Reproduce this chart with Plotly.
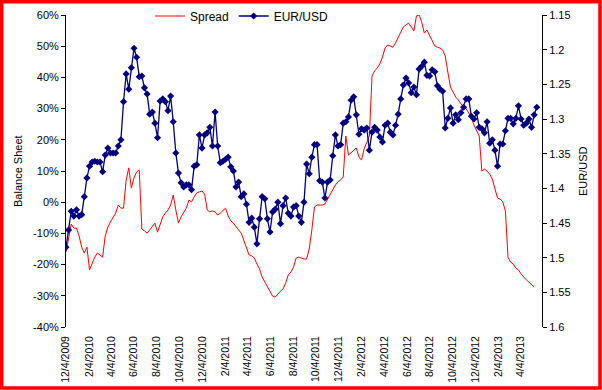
import plotly.graph_objects as go
import pandas as pd

# ---------------- data ----------------
start_date = "2009-12-04"   # weekly observations

eurusd = [
    1.485, 1.460, 1.433, 1.440, 1.431, 1.440, 1.438, 1.412, 1.385, 1.368,
    1.362, 1.361, 1.362, 1.362, 1.376, 1.352, 1.342, 1.349, 1.349, 1.349,
    1.339, 1.330, 1.275, 1.235, 1.257, 1.226, 1.198, 1.211, 1.239, 1.238,
    1.255, 1.264, 1.293, 1.290, 1.306, 1.327, 1.274, 1.271, 1.275, 1.288,
    1.267, 1.304, 1.349, 1.378, 1.392, 1.398, 1.395, 1.395, 1.402, 1.368,
    1.366, 1.323, 1.342, 1.323, 1.320, 1.312, 1.339, 1.290, 1.339, 1.363,
    1.361, 1.358, 1.355, 1.369, 1.375, 1.398, 1.391, 1.412, 1.408, 1.423,
    1.449, 1.443, 1.456, 1.480, 1.444, 1.412, 1.415, 1.444, 1.463, 1.434,
    1.430, 1.420, 1.451, 1.425, 1.414, 1.436, 1.440, 1.427, 1.425, 1.440,
    1.449, 1.420, 1.365, 1.379, 1.355, 1.337, 1.337, 1.389, 1.391, 1.414,
    1.391, 1.388, 1.353, 1.323, 1.339, 1.337, 1.306, 1.304, 1.297, 1.273,
    1.268, 1.294, 1.322, 1.314, 1.316, 1.313, 1.345, 1.319, 1.312, 1.316,
    1.326, 1.333, 1.309, 1.306, 1.319, 1.323, 1.309, 1.293, 1.271, 1.251,
    1.241, 1.248, 1.262, 1.254, 1.265, 1.228, 1.224, 1.218, 1.237, 1.238,
    1.229, 1.232, 1.252, 1.257, 1.260, 1.313, 1.299, 1.284, 1.306, 1.294,
    1.301, 1.291, 1.283, 1.271, 1.271, 1.296, 1.300, 1.291, 1.312, 1.314,
    1.320, 1.304, 1.335, 1.330, 1.345, 1.368, 1.336, 1.336, 1.317, 1.299,
    1.299, 1.307, 1.299, 1.281, 1.300, 1.309, 1.306, 1.300, 1.312, 1.294,
    1.283,
]

spread = [
    -16.0, -11.5, -7.0, -8.3, -8.3, -10.8, -14.4, -16.3, -14.4, -21.7,
    -19.8, -17.6, -16.3, -16.9, -17.6, -10.8, -8.0, -6.3, -5.1, -3.5,
    -0.9, -1.9, -1.9, 7.1, 11.0, 4.5, 7.8, 9.7, 10.3, -8.6,
    -9.2, -9.9, -8.9, -7.6, -6.7, -9.6, -7.3, -4.7, -3.5, -2.5,
    -0.9, 2.3, -2.5, -6.7, -4.7, -3.5, -1.9, 0.7, 0.1, 1.7,
    3.0, 3.3, 3.6, 2.6, -2.5, -3.1, -2.8, -3.1, -4.1, -3.5,
    -2.8, -1.9, -4.4, -6.0, -6.7, -8.0, -8.9, -9.9, -12.1, -14.7,
    -16.9, -17.2, -17.9, -19.8, -21.4, -24.0, -25.6, -27.2, -28.5, -30.1,
    -30.4, -29.4, -28.5, -27.8, -25.9, -23.3, -22.4, -20.8, -17.9, -17.6,
    -17.9, -18.2, -18.2, -15.0, -8.9, -1.5, -0.9, -0.9, -0.9, -0.6,
    1.0, 2.6, 4.2, 5.5, 6.5, 7.1, 8.1, 21.2, 15.1, 15.8,
    16.4, 17.4, 14.5, 13.5, 17.1, 19.0, 21.2, 40.4, 42.1, 43.0,
    44.3, 46.5, 49.4, 50.4, 50.1, 49.7, 51.0, 53.0, 54.5, 56.2,
    56.8, 57.4, 56.2, 54.9, 59.7, 60.0, 57.8, 54.2, 55.2, 53.3,
    52.0, 50.1, 49.7, 49.4, 48.8, 46.9, 41.7, 36.9, 35.3, 33.7,
    32.8, 31.5, 30.8, 29.9, 28.6, 27.0, 24.7, 23.1, 21.2, 10.0,
    10.6, 10.0, 9.0, 7.4, 3.9, 1.3, 1.0, 0.1, -2.8, -17.6,
    -19.2, -19.8, -21.1, -21.7, -23.0, -24.0, -24.9, -25.6, -26.5, -27.2,
]

tick_dates = [
    "2009-12-04", "2010-02-04", "2010-04-04", "2010-06-04", "2010-08-04",
    "2010-10-04", "2010-12-04", "2011-02-04", "2011-04-04", "2011-06-04",
    "2011-08-04", "2011-10-04", "2011-12-04", "2012-02-04", "2012-04-04",
    "2012-06-04", "2012-08-04", "2012-10-04", "2012-12-04", "2013-02-04",
    "2013-04-04",
]
tick_labels = [
    "12/4/2009", "2/4/2010", "4/4/2010", "6/4/2010", "8/4/2010",
    "10/4/2010", "12/4/2010", "2/4/2011", "4/4/2011", "6/4/2011",
    "8/4/2011", "10/4/2011", "12/4/2011", "2/4/2012", "4/4/2012",
    "6/4/2012", "8/4/2012", "10/4/2012", "12/4/2012", "2/4/2013",
    "4/4/2013",
]
x_range = ["2009-12-04", "2013-05-31"]

left_ticks = [60, 50, 40, 30, 20, 10, 0, -10, -20, -30, -40]
left_labels = ["60%", "50%", "40%", "30%", "20%", "10%", "0%",
               "-10%", "-20%", "-30%", "-40%"]
right_ticks = [1.15, 1.2, 1.25, 1.3, 1.35, 1.4, 1.45, 1.5, 1.55, 1.6]
right_labels = ["1.15", "1.2", "1.25", "1.3", "1.35", "1.4", "1.45",
                "1.5", "1.55", "1.6"]

# ---------------- figure ----------------
dates = pd.date_range(start_date, periods=len(eurusd), freq="7D")
FONT = "Arial, 'Liberation Sans', sans-serif"

fig = go.Figure()
fig.add_trace(go.Scatter(
    x=dates[:len(spread)], y=spread, name="Spread", mode="lines",
    line=dict(color="#FF0000", width=1), yaxis="y", xaxis="x"))
fig.add_trace(go.Scatter(
    x=dates, y=eurusd, name="EUR/USD", mode="lines+markers",
    line=dict(color="#000080", width=1.3),
    marker=dict(symbol="diamond", size=5.5, color="#000080"),
    yaxis="y2", xaxis="x"))

W, H = 602, 390
L, R, T, B = 66, 60, 15, 63
pw, ph = W - L - R, H - T - B

def px_x(p):
    return (p - L) / pw

def px_y(p):
    return (H - B - p) / ph

fig.update_layout(
    width=W, height=H,
    margin=dict(l=L, r=R, t=T, b=B, pad=0, autoexpand=False),
    paper_bgcolor="white", plot_bgcolor="white",
    font=dict(family=FONT, size=11, color="black"),
    showlegend=True,
    legend=dict(orientation="h", x=px_x(150), y=px_y(16),
                xanchor="left", yanchor="middle",
                bgcolor="rgba(0,0,0,0)", font=dict(size=12),
                itemwidth=30, tracegroupgap=0),
    xaxis=dict(type="date", range=x_range, tickvals=tick_dates,
               ticktext=tick_labels, tickangle=-90, showline=False,
               showgrid=False, zeroline=False, ticks="", automargin=False,
               ticklabelstandoff=6, tickfont=dict(size=10.5)),
    xaxis2=dict(type="date", range=x_range, matches="x", overlaying="x",
                anchor="free", position=0.4, tickvals=tick_dates,
                showticklabels=False, showline=True, linecolor="black",
                linewidth=1, ticks="outside", ticklen=4, tickcolor="black",
                showgrid=False, zeroline=False, automargin=False),
    yaxis=dict(range=[-40, 60], tickvals=left_ticks, ticktext=left_labels,
               showline=True, linecolor="black", linewidth=1,
               ticks="outside", ticklen=4, tickcolor="black",
               showgrid=False, zeroline=False, tickfont=dict(size=11),
               automargin=False),
    yaxis2=dict(range=[1.6, 1.15], overlaying="y", side="right",
                anchor="x", tickvals=right_ticks, ticktext=right_labels,
                showline=True, linecolor="black", linewidth=1,
                ticks="outside", ticklen=4, tickcolor="black",
                showgrid=False, zeroline=False, tickfont=dict(size=11),
                automargin=False),
    yaxis3=dict(range=[1.6, 1.15], overlaying="y", side="right",
                anchor="x", tickvals=right_ticks, showticklabels=False,
                showline=False, ticks="inside", ticklen=4,
                tickcolor="black", showgrid=False, zeroline=False,
                automargin=False),
    annotations=[
        dict(text="Balance Sheet", xref="paper", yref="paper",
             x=px_x(18), y=0.5, xanchor="center", yanchor="middle",
             textangle=-90, showarrow=False, font=dict(size=11)),
        dict(text="EUR/USD", xref="paper", yref="paper",
             x=px_x(583), y=0.5, xanchor="center", yanchor="middle",
             textangle=-90, showarrow=False, font=dict(size=11)),
    ],
    shapes=[
        dict(type="rect", xref="paper", yref="paper",
             x0=px_x(1.75), x1=px_x(600.0), y0=px_y(388.0), y1=px_y(1.75),
             line=dict(color="#FF0000", width=3.5), fillcolor="rgba(0,0,0,0)",
             layer="above"),
    ],
)

fig.write_html(
    "out.html",
    config={"displayModeBar": False},
    post_script="document.body.style.margin='0px';"
                "document.body.style.overflow='hidden';",
)
